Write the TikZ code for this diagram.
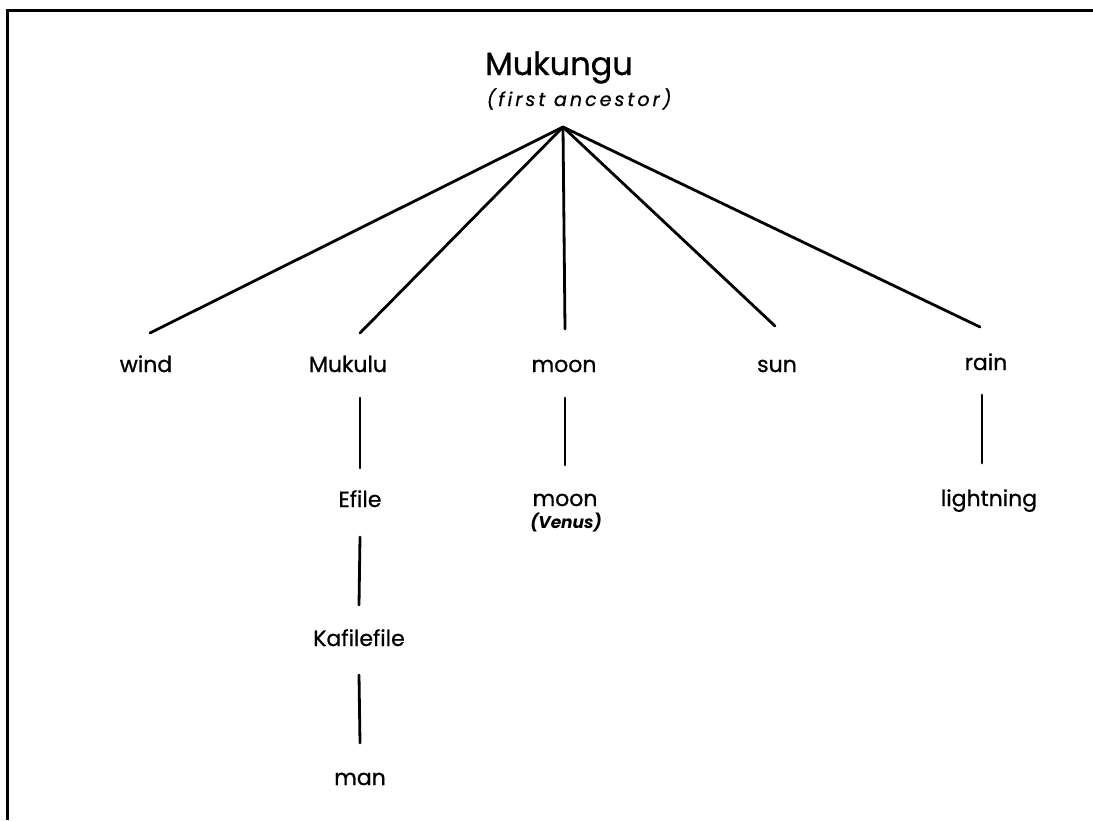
\documentclass[tikz,border=0pt]{standalone}
\usepackage{fontspec}
\setmainfont{Poppins}
\newfontfamily\labelfont[FakeBold=0.8]{Poppins}
\newfontfamily\notefont[FakeBold=0.8,LetterSpace=16]{Poppins}
\begin{document}
\begin{tikzpicture}[x=1pt,y=-1pt,
  lbl/.style={anchor=base,inner sep=0pt,font=\labelfont\fontsize{22}{26}\selectfont},
  sub/.style={anchor=base,inner sep=0pt,font=\notefont\fontsize{19}{23}\selectfont\itshape},
  link/.style={line width=2.8pt,line cap=round},
  frame/.style={line width=3pt}]
\useasboundingbox (0,0) rectangle (1093,820);
% partial frame (top and left edges)
\draw[frame] (7,820) -- (7,10) -- (1093,10);

% root
\node[anchor=base,inner sep=0pt,font=\labelfont\fontsize{32}{38}\selectfont] (root) at (559,75) {Mukungu};
\node[sub] (rootnote) at (579,106) {(first ancestor)};
\coordinate (apex) at (563,127);

% first generation
\node[lbl] (wind)   at (146,372) {wind};
\node[lbl] (mukulu) at (348,372) {Mukulu};
\node[lbl] (moon)   at (564,372) {moon};
\node[lbl] (sun)    at (777,372) {sun};
\node[lbl] (rain)   at (986,370) {rain};

% descendants
\node[lbl] (efile)  at (360,507) {Efile};
\node[lbl] (kafile) at (359,646) {Kafilefile};
\node[lbl] (man)    at (360,785) {man};
\node[lbl] (venus)  at (565,506) {moon};
\node[anchor=base,inner sep=0pt,font=\fontsize{17}{20}\selectfont\bfseries\itshape] (venusnote) at (566,528) {(Venus)};
\node[lbl] (lightning) at (989,506) {lightning};

% spokes from the first ancestor
\draw[link] (apex) -- ([xshift=4pt,yshift=39pt]wind.base);
\draw[link] (apex) -- ([xshift=12pt,yshift=39pt]mukulu.base);
\draw[link] (apex) -- ([xshift=1pt,yshift=43pt]moon.base);
\draw[link] (apex) -- ([xshift=-2pt,yshift=46pt]sun.base);
\draw[link] (apex) -- ([xshift=-6pt,yshift=43pt]rain.base);

% vertical descent lines
\draw[link] ([yshift=-26pt]mukulu.base -| efile.base) -- ([yshift=39pt]efile.base);
\draw[link] ([yshift=-30pt]efile.base) -- ([yshift=41pt]kafile.base);
\draw[link] ([yshift=-29pt]kafile.base) -- ([yshift=42pt]man.base);
\draw[link] ([yshift=-26pt]moon.base -| venus.base) -- ([yshift=41pt]venus.base);
\draw[link] ([xshift=-4pt,yshift=-25pt]rain.base) -- ([xshift=-7pt,yshift=43pt]lightning.base);
\end{tikzpicture}
\end{document}
